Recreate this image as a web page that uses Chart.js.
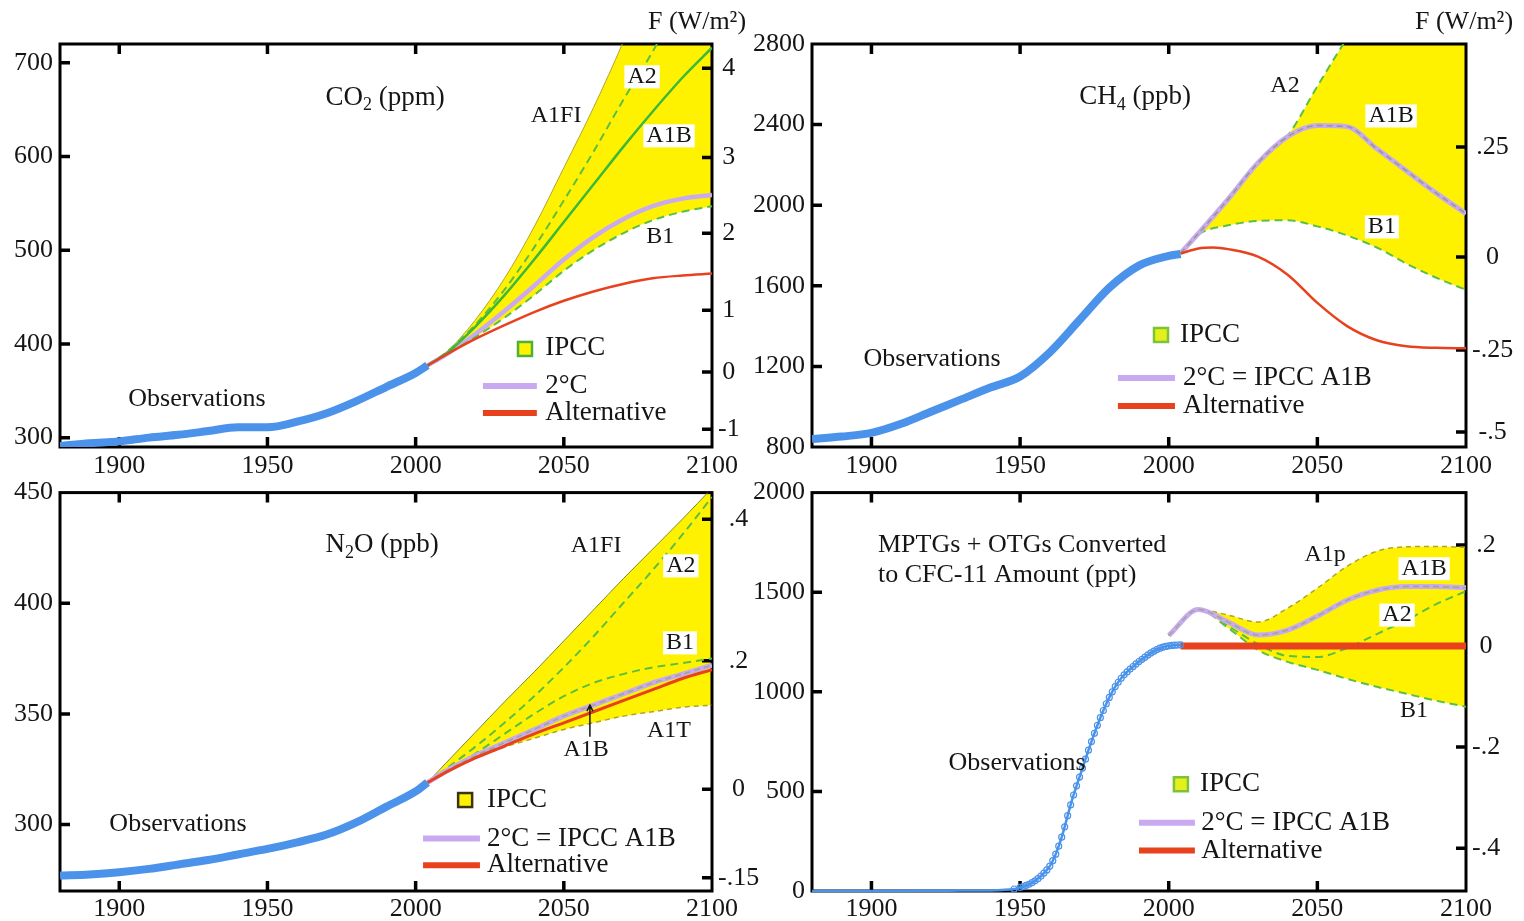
<!DOCTYPE html>
<html>
<head>
<meta charset="utf-8">
<script src="https://cdn.jsdelivr.net/npm/chart.js@4.4.1/dist/chart.umd.min.js"></script>
<style>
  body { margin: 0; background: #fff; width: 1524px; height: 921px; overflow: hidden; position: relative; }
  .panel { position: absolute; }
  .flab { position: absolute; font: 26px 'Liberation Serif', serif; color: #151515; white-space: nowrap; }
</style>
</head>
<body>
<div class="panel" style="left:0;top:0"><canvas id="co2" width="760" height="478"></canvas></div>
<div class="panel" style="left:740px;top:0"><canvas id="ch4" width="784" height="478"></canvas></div>
<div class="panel" style="left:0;top:470px"><canvas id="n2o" width="760" height="451"></canvas></div>
<div class="panel" style="left:740px;top:470px"><canvas id="mptg" width="784" height="451"></canvas></div>
<div class="flab" style="left:648px;top:6px">F (W/m²)</div>
<div class="flab" style="left:1415px;top:6px">F (W/m²)</div>
<script>
// ---- shared axis ticks ----
const xTicks = [1900, 1950, 2000, 2050, 2100];

// ---- CO2 (ppm) ----
const co2YTicks = [300, 400, 500, 600, 700];
const co2FTickPpm = [694, 599, 518, 436, 370, 309];
const co2FTickLabels = ['4', '3', '2', '1', '0', '-1'];
const co2ObsYears = [1880, 1890, 1900, 1910, 1920, 1930, 1940, 1950, 1960, 1970, 1980, 1990, 2000, 2004];
const co2Obs = [291, 294, 296, 300, 303, 307, 311, 311, 317, 326, 339, 354, 369, 377];
const co2ScenYears = [2004, 2010, 2020, 2030, 2040, 2050, 2060, 2070, 2080, 2090, 2100];
const co2A1FI = [377, 390, 425, 470, 525, 588, 652, 722, 800, 880, 960];
const co2A2 = [377, 390, 420, 458, 503, 553, 605, 660, 712, 770, 830];
const co2A1B = [377, 389, 418, 452, 490, 530, 570, 610, 648, 684, 716];
const co2B1 = [377, 388, 407, 428, 452, 478, 500, 518, 532, 541, 547];
const co2TwoDeg = [377, 388, 410, 435, 462, 490, 514, 533, 547, 555, 559];
const co2Alt = [377, 388, 405, 420, 434, 446, 456, 464, 470, 473, 475];

// ---- CH4 (ppb) ----
const ch4YTicks = [800, 1200, 1600, 2000, 2400, 2800];
const ch4FTickPpb = [2289, 1743, 1281, 874];
const ch4FTickLabels = ['.25', '0', '-.25', '-.5'];
const ch4ObsYears = [1880, 1890, 1900, 1910, 1920, 1930, 1940, 1950, 1960, 1970, 1980, 1990, 2000, 2004];
const ch4Obs = [840, 852, 870, 915, 975, 1035, 1095, 1150, 1270, 1430, 1590, 1700, 1748, 1758];
const ch4ScenYears = [2004, 2010, 2020, 2030, 2040, 2050, 2060, 2070, 2080, 2090, 2100];
const ch4A2 = [1762, 1860, 2030, 2210, 2345, 2590, 2830, 3050, 3300, 3500, 3730];
const ch4A1B = [1762, 1860, 2030, 2210, 2340, 2395, 2390, 2280, 2170, 2060, 1958];
const ch4B1 = [1762, 1855, 1900, 1922, 1925, 1895, 1850, 1790, 1710, 1640, 1580];
const ch4AltYears = [2004, 2010, 2015, 2020, 2030, 2040, 2050, 2060, 2070, 2080, 2090, 2100];
const ch4Alt = [1760, 1785, 1790, 1782, 1745, 1655, 1515, 1400, 1330, 1300, 1292, 1290];

// ---- N2O (ppb) ----
const n2oYTicks = [300, 350, 400, 450];
const n2oFTickPpb = [438, 374, 316, 276];
const n2oFTickLabels = ['.4', '.2', '0', '-.15'];
const n2oObsYears = [1880, 1890, 1900, 1910, 1920, 1930, 1940, 1950, 1960, 1970, 1980, 1990, 2000, 2004];
const n2oObs = [277, 277.5, 278.5, 280, 282, 284, 286.5, 289, 292, 295.5, 301, 308, 315, 319];
const n2oScenYears = [2004, 2010, 2020, 2030, 2040, 2050, 2060, 2070, 2080, 2090, 2100];
const n2oA1FI = [319, 327.5, 341.5, 355.5, 369, 383, 397, 411, 424.5, 438, 452];
const n2oA2 = [319, 325, 335, 346, 358, 371, 385, 400, 415, 431, 448];
const n2oB1 = [319, 324, 332, 341, 350, 358, 364, 368, 371, 373, 375];
const n2oA1B = [319, 324, 331, 337, 343, 349, 354, 359, 364, 368, 372];
const n2oA1T = [319, 324, 330, 335, 339, 343, 346, 349, 351, 353, 354];
const n2oAlt = [319, 323.5, 330, 335.5, 341, 346, 351, 356, 361, 366, 370];

// ---- MPTGs + OTGs as CFC-11 (ppt) ----
const mptgYTicks = [0, 500, 1000, 1500, 2000];
const mptgFTickPpt = [1737, 1230, 723, 214];
const mptgFTickLabels = ['.2', '0', '-.2', '-.4'];
const mptgObsYears = [1880, 1900, 1920, 1930, 1940, 1944, 1948,
  1950, 1951, 1952, 1953, 1954, 1955, 1956, 1957, 1958, 1959,
  1960, 1961, 1962, 1963, 1964, 1965, 1966, 1967, 1968, 1969,
  1970, 1971, 1972, 1973, 1974, 1975, 1976, 1977, 1978, 1979,
  1980, 1981, 1982, 1983, 1984, 1985, 1986, 1987, 1988, 1989,
  1990, 1991, 1992, 1993, 1994, 1995, 1996, 1997, 1998, 1999,
  2000, 2001, 2002, 2003, 2004];
const mptgObs = [0, 0, 1, 2, 3, 5, 10,
  18, 22, 28, 34, 42, 51, 62, 75, 90, 106,
  125, 152, 185, 225, 270, 322, 378, 432, 482, 528,
  572, 617, 662, 707, 750, 792, 832, 870, 906, 940,
  972, 1000, 1026, 1048, 1068, 1085, 1100, 1114, 1127, 1140,
  1152, 1163, 1174, 1185, 1195, 1204, 1212, 1219, 1224, 1228,
  1231, 1233, 1234, 1235, 1236];
const mptgScenYears = [2000, 2010, 2020, 2030, 2040, 2050, 2060, 2070, 2080, 2090, 2100];
const mptgA1p = [1283, 1413, 1385, 1350, 1420, 1520, 1630, 1705, 1728, 1730, 1725];
const mptgA1B = [1283, 1413, 1350, 1285, 1310, 1380, 1460, 1510, 1528, 1528, 1522];
const mptgA2 = [1283, 1413, 1330, 1240, 1180, 1175, 1220, 1290, 1360, 1440, 1505];
const mptgB1 = [1283, 1413, 1320, 1210, 1150, 1110, 1065, 1025, 990, 955, 925];
const mptgAltYears = [2004, 2100];
const mptgAlt = [1230, 1230];

// ---- styles ----
const YELLOW = '#fff200';
const BLUE = '#4a92ea';
const LAV = '#c9aaf0';
const RED = '#e8411d';
const GREEN = '#3cb83a';
const GREEN_D = '#5cbf45';
const OLIVE = '#b0a52a';
const FONT = "'Liberation Serif', 'Times New Roman', serif";

Chart.defaults.font.family = FONT;
Chart.defaults.font.size = 26;
Chart.defaults.color = '#151515';

function line(xs, ys, color, width, dash, extra) {
  return Object.assign({
    data: xs.map((x, i) => ({ x: x, y: ys[i] })),
    borderColor: color, borderWidth: width, borderDash: dash || [],
    pointRadius: 0, fill: false, cubicInterpolationMode: 'monotone', clip: 0
  }, extra || {});
}

function richText(ctx, s, x, y, size, align, bg) {
  const parts = [];
  s.split(/(_.)/).forEach(p => {
    if (p.length === 2 && p[0] === '_') parts.push({ t: p[1], sub: true });
    else if (p) parts.push({ t: p });
  });
  let w = 0;
  parts.forEach(p => {
    ctx.font = (p.sub ? Math.round(size * 0.65) : size) + 'px ' + FONT;
    p.w = ctx.measureText(p.t).width;
    w += p.w;
  });
  let cx = align === 'left' ? x : x - w / 2;
  if (bg) {
    ctx.fillStyle = '#fff';
    ctx.fillRect(cx - 3, y - size * 0.48, w + 6, size * 0.96);
  }
  ctx.fillStyle = '#151515';
  ctx.textBaseline = 'middle';
  ctx.textAlign = 'left';
  parts.forEach(p => {
    ctx.font = (p.sub ? Math.round(size * 0.65) : size) + 'px ' + FONT;
    ctx.fillText(p.t, cx, p.sub ? y + size * 0.3 : y);
    cx += p.w;
  });
}

// black box + inward tick marks (drawn over the yellow fill, under the lines)
const frame = {
  id: 'frame',
  beforeDatasetsDraw(chart) {
    const { ctx, chartArea: a, scales } = chart;
    ctx.save();
    ctx.strokeStyle = '#000';
    ctx.lineWidth = 3;
    ctx.strokeRect(a.left, a.top, a.right - a.left, a.bottom - a.top);
    ctx.lineWidth = 3.5;
    ctx.beginPath();
    scales.x.ticks.forEach(t => {
      const px = scales.x.getPixelForValue(t.value);
      if (px < a.left + 3 || px > a.right - 3) return;
      ctx.moveTo(px, a.bottom); ctx.lineTo(px, a.bottom - 10);
      ctx.moveTo(px, a.top); ctx.lineTo(px, a.top + 10);
    });
    scales.y.ticks.forEach(t => {
      const py = scales.y.getPixelForValue(t.value);
      if (py < a.top + 3 || py > a.bottom - 3) return;
      ctx.moveTo(a.left, py); ctx.lineTo(a.left + 10, py);
    });
    scales.yF.ticks.forEach(t => {
      const py = scales.yF.getPixelForValue(t.value);
      if (py < a.top + 3 || py > a.bottom - 3) return;
      ctx.moveTo(a.right, py); ctx.lineTo(a.right - 10, py);
    });
    ctx.stroke();
    ctx.restore();
  }
};

// text labels and the little legend, placed in data coordinates
function notesPlugin(notes) {
  return {
    id: 'notes',
    afterDatasetsDraw(chart) {
      const { ctx, scales } = chart;
      const X = v => scales.x.getPixelForValue(v);
      const Y = v => scales.y.getPixelForValue(v);
      ctx.save();
      notes.forEach(n => {
        if (n.box) {
          const px = X(n.x), py = Y(n.y);
          ctx.fillStyle = n.fillColor;
          ctx.fillRect(px - 7, py - 7, 14, 14);
          ctx.strokeStyle = n.edge;
          ctx.lineWidth = 2.5;
          ctx.strokeRect(px - 7, py - 7, 14, 14);
        } else if (n.seg) {
          ctx.strokeStyle = n.color;
          ctx.lineWidth = n.width;
          ctx.beginPath();
          ctx.moveTo(X(n.x), Y(n.y));
          ctx.lineTo(X(n.x2), Y(n.y));
          ctx.stroke();
        } else if (n.arrow) {
          const px = X(n.x), y1 = Y(n.y), y2 = Y(n.y2);
          ctx.strokeStyle = '#151515';
          ctx.lineWidth = 1.5;
          ctx.beginPath();
          ctx.moveTo(px, y1); ctx.lineTo(px, y2);
          ctx.moveTo(px - 3, y2 + 6); ctx.lineTo(px, y2); ctx.lineTo(px + 3, y2 + 6);
          ctx.stroke();
        } else {
          richText(ctx, n.t, X(n.x), Y(n.y), n.size || 26, n.align || 'center', n.bg);
        }
      });
      ctx.restore();
    }
  };
}

function makePanel(id, cfg) {
  const setTicks = list => s => { s.ticks = list.map(v => ({ value: v })); };
  new Chart(document.getElementById(id), {
    type: 'line',
    data: { datasets: cfg.datasets },
    options: {
      responsive: false,
      animation: false,
      layout: { padding: { top: cfg.top, left: 0, right: 0, bottom: 0 } },
      plugins: {
        legend: { display: false },
        tooltip: { enabled: false },
        filler: { drawTime: 'beforeDatasetsDraw' }
      },
      scales: {
        x: {
          type: 'linear', min: 1880, max: 2100,
          afterBuildTicks: setTicks(xTicks),
          ticks: { callback: v => String(v), padding: cfg.xPad, maxRotation: 0, autoSkip: false },
          grid: { display: false, drawTicks: false }, border: { display: false },
          afterFit: s => { s.height = cfg.bottomH; }
        },
        y: {
          type: 'linear', position: 'left', min: cfg.yMin, max: cfg.yMax,
          afterBuildTicks: setTicks(cfg.yTicks),
          ticks: { callback: v => String(v), padding: 7, autoSkip: false },
          grid: { display: false, drawTicks: false }, border: { display: false },
          afterFit: s => { s.width = cfg.leftW; }
        },
        yF: {
          type: 'linear', position: 'right', min: cfg.yMin, max: cfg.yMax,
          afterBuildTicks: setTicks(cfg.fTicks),
          ticks: { callback: (v, i) => cfg.fLabels[i], padding: 6, crossAlign: 'center', autoSkip: false },
          grid: { display: false, drawTicks: false }, border: { display: false },
          afterFit: s => { s.width = cfg.rightW; }
        }
      }
    },
    plugins: [frame, notesPlugin(cfg.notes)]
  });
}

// ---------- CO2 ----------
makePanel('co2', {
  yMin: 290, yMax: 720, yTicks: co2YTicks, fTicks: co2FTickPpm, fLabels: co2FTickLabels,
  top: 44, leftW: 60, rightW: 48, bottomH: 31, xPad: 4,
  datasets: [
    line(co2ObsYears, co2Obs, BLUE, 8),
    line(co2ScenYears, co2Alt, RED, 2.5),
    line(co2ScenYears, co2A1B, GREEN, 2.5),
    line(co2ScenYears, co2A2, GREEN_D, 2, [8, 5]),
    line(co2ScenYears, co2B1, GREEN_D, 2, [8, 5]),
    line(co2ScenYears, co2TwoDeg, LAV, 4.5),
    line(co2ScenYears, co2A1FI, OLIVE, 1, [], { fill: { target: 4, above: YELLOW, below: YELLOW }, backgroundColor: YELLOW })
  ],
  notes: [
    { t: 'CO_2 (ppm)', x: 1989.7, y: 663, size: 27 },
    { t: 'A1FI', x: 2047.4, y: 643, size: 24 },
    { t: 'A2', x: 2076.4, y: 685, size: 24, bg: true },
    { t: 'A1B', x: 2085.5, y: 622, size: 24, bg: true },
    { t: 'B1', x: 2082.5, y: 514, size: 24 },
    { t: 'Observations', x: 1926.2, y: 341, size: 26 },
    { box: true, x: 2036.9, y: 394.6, fillColor: YELLOW, edge: '#4cb03a' },
    { t: 'IPCC', x: 2043.7, y: 395.6, size: 27, align: 'left' },
    { seg: true, x: 2022.7, x2: 2040.9, y: 355.1, color: LAV, width: 6 },
    { t: '2°C', x: 2043.7, y: 355.1, size: 27, align: 'left' },
    { seg: true, x: 2022.7, x2: 2040.9, y: 326.3, color: RED, width: 6 },
    { t: 'Alternative', x: 2043.7, y: 326.3, size: 27, align: 'left' }
  ]
});

// ---------- CH4 ----------
makePanel('ch4', {
  yMin: 800, yMax: 2800, yTicks: ch4YTicks, fTicks: ch4FTickPpb, fLabels: ch4FTickLabels,
  top: 44, leftW: 72, rightW: 58, bottomH: 31, xPad: 4,
  datasets: [
    line(ch4ObsYears, ch4Obs, BLUE, 8),
    line(ch4AltYears, ch4Alt, RED, 2.5),
    line(ch4ScenYears, ch4A1B, '#8e9c80', 1.5, [6, 4]),
    line(ch4ScenYears, ch4A1B, LAV, 5),
    line(ch4ScenYears, ch4B1, GREEN_D, 2, [8, 5]),
    line(ch4ScenYears, ch4A2, GREEN_D, 2, [8, 5], { fill: { target: 4, above: YELLOW, below: YELLOW }, backgroundColor: YELLOW })
  ],
  notes: [
    { t: 'CH_4 (ppb)', x: 1988.7, y: 2537, size: 27 },
    { t: 'A2', x: 2039.1, y: 2592, size: 24 },
    { t: 'A1B', x: 2074.8, y: 2443, size: 24, bg: true },
    { t: 'B1', x: 2071.7, y: 1892, size: 24, bg: true },
    { t: 'Observations', x: 1920.4, y: 1237, size: 26 },
    { box: true, x: 1997.4, y: 1356, fillColor: '#e4f01a', edge: '#7cc23a' },
    { t: 'IPCC', x: 2003.8, y: 1356, size: 27, align: 'left' },
    { seg: true, x: 1982.9, x2: 2002.1, y: 1142, color: LAV, width: 6 },
    { t: '2°C = IPCC A1B', x: 2004.8, y: 1142, size: 27, align: 'left' },
    { seg: true, x: 1982.9, x2: 2002.1, y: 1003, color: RED, width: 6 },
    { t: 'Alternative', x: 2004.8, y: 1003, size: 27, align: 'left' }
  ]
});

// ---------- N2O ----------
makePanel('n2o', {
  yMin: 270, yMax: 450, yTicks: n2oYTicks, fTicks: n2oFTickPpb, fLabels: n2oFTickLabels,
  top: 18, leftW: 60, rightW: 48, bottomH: 30, xPad: 3,
  datasets: [
    line(n2oObsYears, n2oObs, BLUE, 8),
    line(n2oScenYears, n2oAlt, RED, 3),
    line(n2oScenYears, n2oA1B, '#9aa890', 1.5, [6, 4]),
    line(n2oScenYears, n2oA1B, LAV, 5),
    line(n2oScenYears, n2oB1, GREEN_D, 2, [8, 5]),
    line(n2oScenYears, n2oA2, GREEN_D, 2, [8, 5]),
    line(n2oScenYears, n2oA1T, OLIVE, 1.5, [5, 4]),
    line(n2oScenYears, n2oA1FI, '#7a8a2a', 1, [], { fill: { target: 6, above: YELLOW, below: YELLOW }, backgroundColor: YELLOW })
  ],
  notes: [
    { t: 'N_2O (ppb)', x: 1988.7, y: 426.3, size: 27 },
    { t: 'A1FI', x: 2060.9, y: 425.9, size: 24 },
    { t: 'A2', x: 2089.5, y: 416.9, size: 24, bg: true },
    { t: 'B1', x: 2089.2, y: 382.1, size: 24, bg: true },
    { t: 'A1T', x: 2085.5, y: 342.4, size: 24 },
    { t: 'A1B', x: 2057.5, y: 333.9, size: 24 },
    { arrow: true, x: 2058.8, y: 339.7, y2: 354 },
    { t: 'Observations', x: 1919.8, y: 300.4, size: 26 },
    { box: true, x: 2016.7, y: 311.1, fillColor: YELLOW, edge: '#3a3410' },
    { t: 'IPCC', x: 2024.1, y: 311.1, size: 27, align: 'left' },
    { seg: true, x: 2002.5, x2: 2021.7, y: 293.7, color: LAV, width: 6 },
    { t: '2°C = IPCC A1B', x: 2024.1, y: 293.7, size: 27, align: 'left' },
    { seg: true, x: 2002.5, x2: 2021.7, y: 281.6, color: RED, width: 6 },
    { t: 'Alternative', x: 2024.1, y: 281.6, size: 27, align: 'left' }
  ]
});

// ---------- MPTGs + OTGs ----------
makePanel('mptg', {
  yMin: 0, yMax: 2000, yTicks: mptgYTicks, fTicks: mptgFTickPpt, fLabels: mptgFTickLabels,
  top: 18, leftW: 72, rightW: 58, bottomH: 30, xPad: 3,
  datasets: [
    line(mptgObsYears, mptgObs, BLUE, 2.5, [], {
      pointRadius: c => (c.raw && c.raw.y < 8 ? 0 : 3), pointStyle: 'circle',
      pointBorderColor: BLUE, pointBorderWidth: 1.2,
      pointBackgroundColor: 'rgba(255,255,255,0)', clip: 4
    }),
    line(mptgAltYears, mptgAlt, RED, 7),
    line(mptgScenYears, mptgA1B, '#9aa890', 1.5, [6, 4]),
    line(mptgScenYears, mptgA1B, LAV, 5),
    line(mptgScenYears, mptgA2, GREEN_D, 2, [8, 5]),
    line(mptgScenYears, mptgB1, GREEN_D, 2, [8, 5]),
    line(mptgScenYears, mptgA1p, OLIVE, 1.5, [5, 4], { fill: { target: 5, above: YELLOW, below: YELLOW }, backgroundColor: YELLOW })
  ],
  notes: [
    { t: 'MPTGs + OTGs Converted', x: 1902.2, y: 1737, size: 26, align: 'left' },
    { t: 'to CFC-11 Amount (ppt)', x: 1902.2, y: 1583, size: 26, align: 'left' },
    { t: 'A1p', x: 2052.6, y: 1687, size: 24 },
    { t: 'A1B', x: 2085.9, y: 1618, size: 24, bg: true },
    { t: 'A2', x: 2076.8, y: 1385, size: 24, bg: true },
    { t: 'B1', x: 2082.5, y: 903, size: 24 },
    { t: 'Observations', x: 1949, y: 640, size: 26 },
    { box: true, x: 2004.1, y: 536, fillColor: '#e4f01a', edge: '#7cc23a' },
    { t: 'IPCC', x: 2010.5, y: 536, size: 27, align: 'left' },
    { seg: true, x: 1990, x2: 2008.8, y: 342, color: LAV, width: 6 },
    { t: '2°C = IPCC A1B', x: 2010.9, y: 342, size: 27, align: 'left' },
    { seg: true, x: 1990, x2: 2008.8, y: 203.5, color: RED, width: 6 },
    { t: 'Alternative', x: 2010.9, y: 203.5, size: 27, align: 'left' }
  ]
});
</script>
</body>
</html>
